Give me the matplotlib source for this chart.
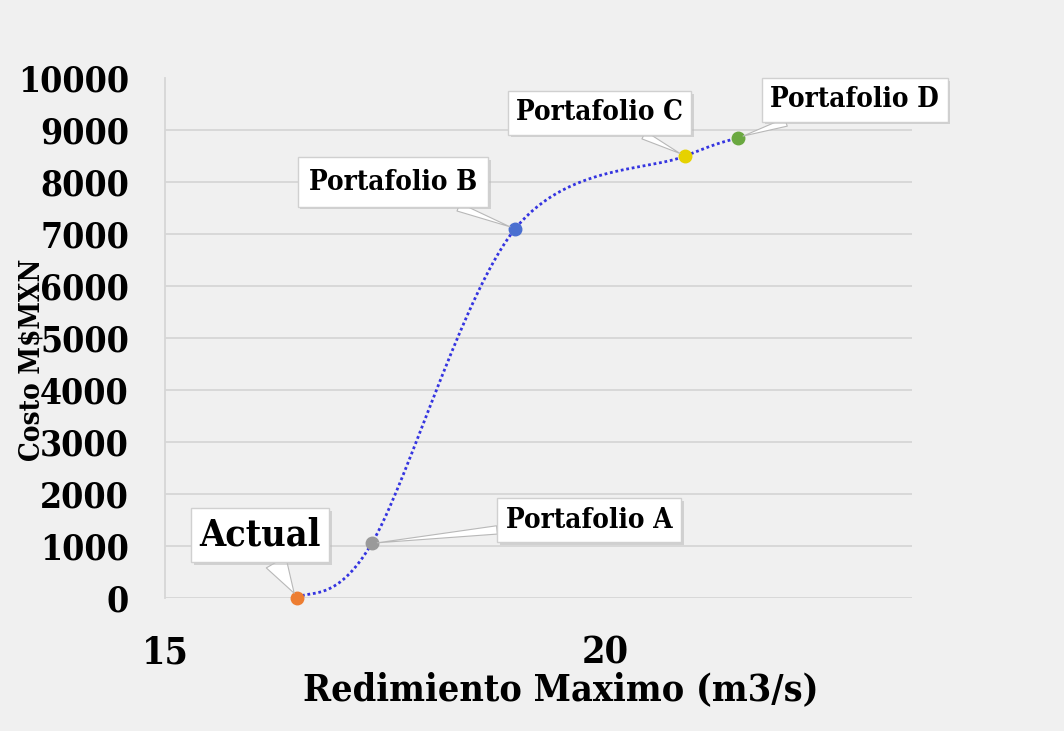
import numpy as np
import matplotlib
matplotlib.use("Agg")
import matplotlib.pyplot as plt
from matplotlib import patheffects as pe

# Portfolio data: maximum yield (m3/s) vs cost (M$MXN)
names = ["Actual", "Portafolio A", "Portafolio B", "Portafolio C", "Portafolio D"]
rendimiento = [16.5, 17.35, 18.98, 20.91, 21.51]
costo = [0, 1050, 7100, 8500, 8850]
colors = ["#ed7d31", "#9a9a9a", "#4a6fd0", "#e6d200", "#6aa840"]

x_ticks = [15, 20]
y_ticks = [0, 1000, 2000, 3000, 4000, 5000, 6000, 7000, 8000, 9000, 10000]

FONT = "DejaVu Serif"


def smooth_curve(xs, ys, n=60):
    """Cardinal (Catmull-Rom style) Bezier smoothing through the points."""
    P = np.column_stack([xs, ys]).astype(float)
    ext = np.vstack([P[0], P, P[-1]])
    out = []
    t = np.linspace(0, 1, n)[:, None]
    for i in range(len(P) - 1):
        p0, p1 = ext[i + 1], ext[i + 2]
        c1 = p0 + (ext[i + 2] - ext[i]) / 6.0
        c2 = p1 - (ext[i + 3] - ext[i + 1]) / 6.0
        seg = ((1 - t) ** 3) * p0 + 3 * ((1 - t) ** 2) * t * c1 \
            + 3 * (1 - t) * t ** 2 * c2 + t ** 3 * p1
        out.append(seg if i == 0 else seg[1:])
    seg = np.vstack(out)
    return seg[:, 0], seg[:, 1]


fig = plt.figure(figsize=(10.64, 7.31), dpi=100, facecolor="#f0f0f0")
ax = fig.add_axes([165 / 1064, 1 - 598 / 731, (912 - 165) / 1064, (598 - 78) / 731])
ax.set_facecolor("#f0f0f0")

ax.set_xlim(15, 23.49)
ax.set_ylim(0, 10000)

# horizontal gridlines
for yv in y_ticks[:-1]:
    ax.axhline(yv, color="#d6d6d6", lw=1.3, zorder=0)
for s in ["top", "right", "bottom"]:
    ax.spines[s].set_visible(False)
ax.spines["left"].set_color("#d6d6d6")
ax.spines["left"].set_linewidth(1.3)

ax.set_xticks(x_ticks)
ax.set_yticks(y_ticks)
ax.tick_params(length=0)
ax.tick_params(axis="y", pad=26)
ax.tick_params(axis="x", pad=26)
for lab in ax.get_yticklabels():
    lab.set_fontfamily(FONT)
    lab.set_fontsize(25.5)
    lab.set_fontweight("bold")
    lab.set_fontstretch("condensed")
for lab in ax.get_xticklabels():
    lab.set_fontfamily(FONT)
    lab.set_fontsize(27)
    lab.set_fontweight("bold")
    lab.set_fontstretch("condensed")

# smoothed trend through the portfolios
cx, cy = smooth_curve(rendimiento, costo)
ax.plot(cx, cy, color="#3434e0", lw=2.0, ls=(0, (1, 1)), zorder=3)

for x, y, c in zip(rendimiento, costo, colors):
    ax.plot(x, y, "o", ms=9, color=c, mec=c, zorder=4, clip_on=False)

# callout labels
label_pos = [(16.08, 1212), (19.82, 1500), (17.59, 8000), (19.94, 9330), (22.84, 9580)]
label_size = [27, 20, 20, 20, 20]
label_pad = [0.22, 0.3, 0.4, 0.3, 0.3]
tail = [0.6, 0.3, 0.3, 0.3, 0.3]
for name, x, y, (tx, ty), fs, pd, tw in zip(names, rendimiento, costo, label_pos,
                                            label_size, label_pad, tail):
    t = ax.annotate(
        name, xy=(x, y), xytext=(tx, ty), textcoords="data",
        ha="center", va="center", fontsize=fs, fontweight="bold",
        fontfamily=FONT, fontstretch="condensed", zorder=5,
        bbox=dict(boxstyle=f"square,pad={pd}", fc="white", ec="#d0d0d0", lw=1),
        arrowprops=dict(arrowstyle=f"wedge,tail_width={tw},shrink_factor=0.5",
                        fc="white", ec="#b8b8b8", lw=0.8,
                        shrinkA=0, shrinkB=4),
        annotation_clip=False,
    )
    t.get_bbox_patch().set_path_effects(
        [pe.SimplePatchShadow(offset=(2, -2), shadow_rgbFace="#bdbdbd", alpha=0.6),
         pe.Normal()])

fig.text(561 / 1064, 1 - 690 / 731, "Redimiento Maximo (m3/s)", ha="center", va="center",
         fontsize=27, fontweight="bold", fontfamily=FONT, fontstretch="condensed")
fig.text(32 / 1064, 1 - 360 / 731, "Costo M\\$MXN", ha="center", va="center",
         rotation=90, fontsize=20, fontweight="bold", fontfamily=FONT,
         fontstretch="condensed")

fig.savefig("out.png", dpi=100, facecolor=fig.get_facecolor())
